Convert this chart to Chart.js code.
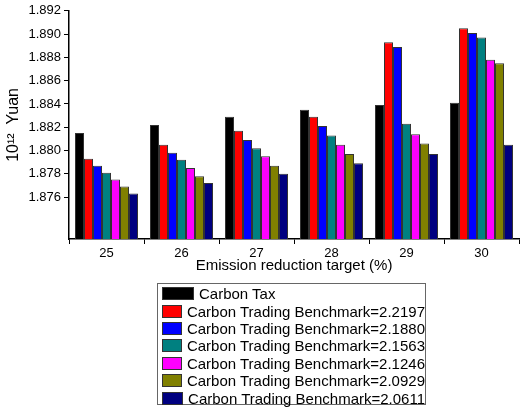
<!DOCTYPE html>
<html><head><meta charset="utf-8">
<script src="https://cdn.jsdelivr.net/npm/chart.js@4"></script>
<style>
body{margin:0;background:#fff;font-family:Arial,"Liberation Sans",sans-serif}
#wrap{position:relative;width:520px;height:407px}
#lg{position:absolute;left:157px;top:283px;width:269px;height:122px;border:1px solid #666;box-sizing:border-box;padding-top:1px}
.row{height:17.4px;display:flex;align-items:center;font-size:15px;color:#000;white-space:nowrap}
.sw{width:30px;height:11px;border:1px solid #333;margin:0 5px 0 4px}
</style></head><body>
<div id="wrap"><canvas id="c" width="520" height="407"></canvas><div id="lg"></div></div>
<script>
const categories=["25","26","27","28","29","30"];
const seriesNames=["Carbon Tax","Carbon Trading Benchmark=2.2197","Carbon Trading Benchmark=2.1880","Carbon Trading Benchmark=2.1563","Carbon Trading Benchmark=2.1246","Carbon Trading Benchmark=2.0929","Carbon Trading Benchmark=2.0611"];
const colors=["#000000","#ff0000","#0000ff","#008080","#ff00ff","#808000","#000080"];
const carbonTax=[1.8815,1.8822,1.8829,1.8835,1.8839,1.8841];
const b22197=[1.8793,1.8805,1.8817,1.8829,1.8893,1.8905];
const b21880=[1.8787,1.8798,1.8809,1.8821,1.8889,1.8901];
const b21563=[1.8781,1.8792,1.8802,1.8813,1.8823,1.8897];
const b21246=[1.8775,1.8785,1.8795,1.8805,1.8814,1.8878];
const b20929=[1.8769,1.8778,1.8787,1.8797,1.8806,1.8875];
const b20611=[1.8763,1.8772,1.8780,1.8789,1.8797,1.8805];
const yTicks=[1.876,1.878,1.880,1.882,1.884,1.886,1.888,1.890,1.892];
const series=[carbonTax,b22197,b21880,b21563,b21246,b20929,b20611];
const lg=document.getElementById('lg');
seriesNames.forEach((n,i)=>{const r=document.createElement('div');r.className='row';r.innerHTML='<span class="sw" style="background:'+colors[i]+'"></span>'+n;lg.appendChild(r);});
new Chart(document.getElementById('c'),{type:'bar',
data:{labels:categories,datasets:series.map((d,i)=>({label:seriesNames[i],data:d,backgroundColor:colors[i],borderColor:'#333',borderWidth:1,base:1.8724,categoryPercentage:0.84,barPercentage:1}))},
options:{responsive:false,animation:false,layout:{padding:{top:7,right:1,bottom:128,left:0}},
plugins:{legend:{display:false},tooltip:{enabled:false}},
scales:{
x:{grid:{display:true,drawOnChartArea:false,color:'#000',tickLength:5},border:{color:'#000',width:1.5},
ticks:{color:'#000',font:{size:13,family:'Arial'},padding:2},
title:{display:true,text:'Emission reduction target (%)',color:'#000',font:{size:15,family:'Arial'},padding:{top:0}},
afterFit:s=>{s.height=40}},
y:{min:1.8724,max:1.892,grid:{drawOnChartArea:false,color:'#000',tickLength:5},border:{color:'#000',width:1.5},
afterBuildTicks:s=>{s.ticks=yTicks.map(v=>({value:v}))},
ticks:{color:'#000',font:{size:13,family:'Arial'},callback:v=>v.toFixed(3)},
title:{display:true,text:'10¹²  Yuan',color:'#000',font:{size:16,family:'Arial'}},
afterFit:s=>{s.width=69}}
}}});
</script></body></html>
